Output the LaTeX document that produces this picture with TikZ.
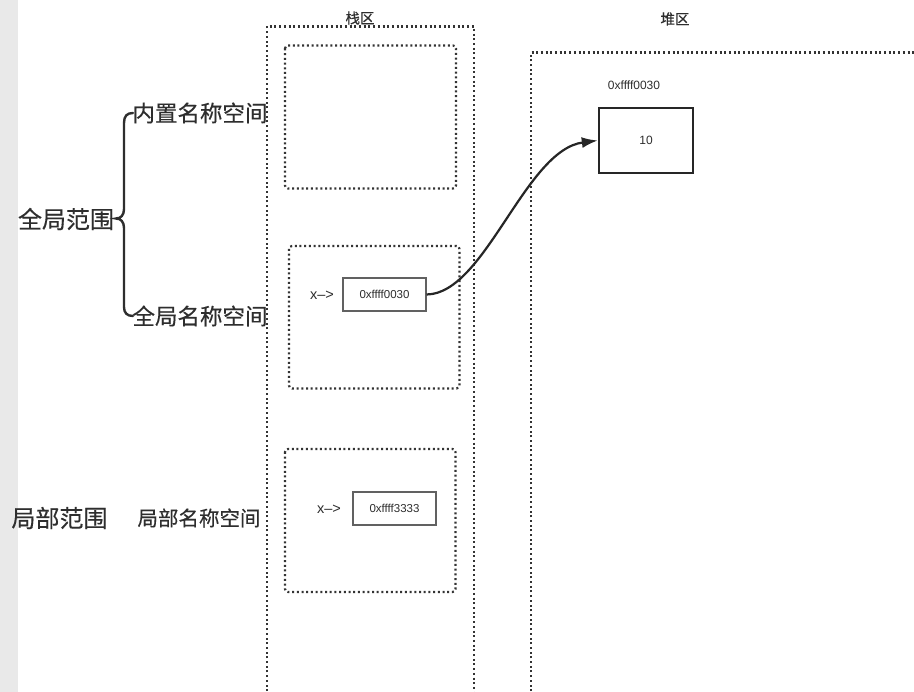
\documentclass[tikz,border=0pt]{standalone}
\usepackage{fontspec}
\setmainfont{Liberation Sans}
\newfontfamily\cjk[FakeBold=0.35]{Noto Sans CJK SC}
\usetikzlibrary{arrows.meta}
\definecolor{txt}{HTML}{2E2E2E}
\definecolor{dotc}{HTML}{333333}
\definecolor{strip}{HTML}{E9E9E9}
\tikzset{
  region/.style={draw=dotc, line width=2.2pt, dash pattern=on 2pt off 2.7pt},
  nsbox/.style={region, rounded corners=3pt},
  ptrbox/.style={draw=black!62, line width=1.1pt, rectangle, inner sep=0pt,
    minimum width=83pt, minimum height=33pt, text=txt, font=\fontsize{11.5}{13}\selectfont},
  heapbox/.style={draw=black!85, line width=2.4pt, rectangle, inner sep=0pt,
    minimum width=94pt, minimum height=65pt, text=txt, font=\fontsize{12}{14}\selectfont},
  lbl/.style={inner sep=0pt, text=txt},
  bigcjk/.style={lbl, font=\cjk\fontsize{24}{26}\selectfont},
  midcjk/.style={lbl, font=\cjk\fontsize{22.5}{24}\selectfont},
  smallcjk/.style={lbl, font=\cjk\fontsize{20.5}{22}\selectfont},
  titlecjk/.style={lbl, font=\cjk\fontsize{14.5}{16}\selectfont},
  arrowlbl/.style={lbl, font=\fontsize{14.5}{16}\selectfont},
  addrlbl/.style={lbl, font=\fontsize{12}{14}\selectfont},
  link/.style={draw=black!85, line width=2.2pt, -{Latex[length=16pt,width=11pt]}},
  bracel/.style={draw=txt, line width=2.4pt, line cap=round}
}
\begin{document}
\begin{tikzpicture}[x=1pt,y=-1pt]
\useasboundingbox (0,0) rectangle (914,692);
\clip (0,0) rectangle (914,692);
\fill[white] (0,0) rectangle (914,692);
\fill[strip] (0,0) rectangle (18,692);

% regions
\draw[region] (267,710) -- (267,26.5) -- (474,26.5) -- (474,710);
\draw[region] (531,710) -- (531,52.5) -- (930,52.5);
\draw[nsbox] (285,45.5) rectangle (456,188.5);
\draw[nsbox] (289,246) rectangle (459.5,388.5);
\draw[nsbox] (285,449) rectangle (455.5,592);

% titles
\node[titlecjk] (stack) at (360,18) {栈区};
\node[titlecjk] (heap) at (675,19) {堆区};

% left labels
\node[bigcjk] (glob) at (66,219) {全局范围};
\node[midcjk] (builtin) at (200,113) {内置名称空间};
\node[midcjk] (globns) at (200,316) {全局名称空间};
\node[bigcjk] (local) at (59.5,518) {局部范围};
\node[smallcjk] (localns) at (199,518) {局部名称空间};

% brace
\draw[bracel] (133,113) .. controls (127,113) and (124,116) .. (124,123)
  -- (124,209) .. controls (124,215) and (121,218.5) .. (116,218.5)
  .. controls (121,218.5) and (124,222) .. (124,228)
  -- (124,307) .. controls (124,313) and (127,316) .. (133,316);

% pointers
\node[arrowlbl] (xa) at (322,295) {x–>};
\node[ptrbox] (p1) at (384.5,294.5) {0xffff0030};
\node[arrowlbl] (xb) at (329,509) {x–>};
\node[ptrbox] (p2) at (394.5,508.5) {0xffff3333};

% heap object
\node[addrlbl] (haddr) at (634,85) {0xffff0030};
\node[heapbox] (hobj) at (646,140.5) {10};

% link
\draw[link] (p1.east) .. controls (485,294) and (525,150) .. (hobj.west);
\end{tikzpicture}
\end{document}
